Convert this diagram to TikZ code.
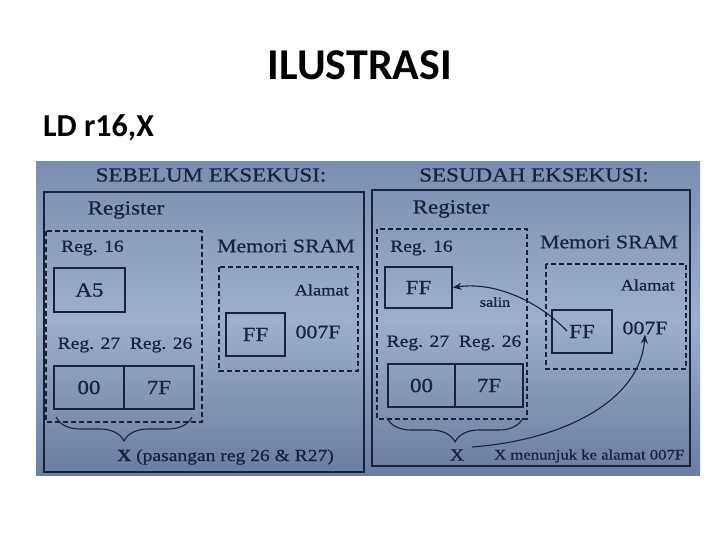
\documentclass[tikz,border=0pt]{standalone}
\usepackage{fontspec}
\setmainfont{Carlito}
\newfontfamily\pf{Liberation Serif}[FakeStretch=1.15,FakeBold=0.6]
\usetikzlibrary{decorations.pathreplacing,arrows.meta}
\definecolor{ink}{HTML}{18223C}
\definecolor{phtop}{HTML}{7A8EB2}
\definecolor{phmid}{HTML}{9DAFCD}
\definecolor{phbot}{HTML}{6A7DA2}
\newcommand{\myfs}[1]{\fontsize{#1}{#1}\selectfont}
\tikzset{
  lbl/.style={font={\pf\myfs{#1}}, text=ink, inner sep=0pt},
  cell/.style={draw=ink, line width=1.2pt, inner sep=0pt, font={\pf\myfs{20}}, text=ink},
  dbox/.style={draw=ink, line width=1.2pt, dash pattern=on 5pt off 3pt},
  panel/.style={draw=ink, line width=1.4pt},
  bracestyle/.style={draw=ink, line width=1.1pt, decorate, decoration={brace, mirror, amplitude=24pt}},
  conn/.style={draw=ink, line width=1.1pt, -{Stealth[length=9pt,width=7pt]}}
}
\begin{document}
\begin{tikzpicture}[x=1pt,y=-1pt]
\useasboundingbox (0,0) rectangle (720,540);
\fill[white] (0,0) rectangle (720,540);
% slide texts
\node[font={\bfseries\myfs{44}}, text=black, inner sep=0pt] (title) at (360,65) {ILUSTRASI};
\node[font={\bfseries\myfs{32}}, text=black, inner sep=0pt, anchor=base west] (instr) at (43,137) {LD r16,X};
% photo background
\shade[top color=phtop, bottom color=phbot, middle color=phmid] (36,162) rectangle (700,475);
% panels
\draw[panel] (44,192) rectangle (364,472);
\draw[panel] (372,190) rectangle (690,466);
% ---------- left: before ----------
\node[lbl=20] (hL) at (211,175) {SEBELUM EKSEKUSI:};
\node[lbl=20] (regL) at (126,210) {Register};
\draw[dbox] (46,231) rectangle (202,422);
\node[lbl=17, anchor=west] (r16L) at (61,248) {Reg. 16};
\node[cell, minimum width=71pt, minimum height=44pt] (a5) at (89.5,290) {A5};
\node[lbl=17] (r2726L) at (125,345) {Reg. 27\ \ Reg. 26};
\node[cell, minimum width=70pt, minimum height=43pt] (c00L) at (89,387.5) {00};
\node[cell, minimum width=70pt, minimum height=43pt] (c7FL) at (159,387.5) {7F};
\node[lbl=19] (memL) at (286,246) {Memori SRAM};
\draw[dbox] (219,267) rectangle (358,371);
\node[lbl=16, anchor=east] (alL) at (349,290) {Alamat};
\node[cell, minimum width=59pt, minimum height=43pt] (ffL) at (255.5,334.5) {FF};
\node[lbl=19] (adL) at (318,332) {007F};
\coordinate (bLa) at (56,417);
\coordinate (bLb) at (192,417);
\draw[bracestyle] (bLa) -- (bLb);
\node[lbl=17, anchor=west] (xL) at (117,457) {\textbf{X} (pasangan reg 26 \& R27)};
% ---------- right: after ----------
\node[lbl=20] (hR) at (534,175) {SESUDAH EKSEKUSI:};
\node[lbl=20] (regR) at (451,209) {Register};
\draw[dbox] (377,229) rectangle (527,419);
\node[lbl=17, anchor=west] (r16R) at (390,248) {Reg. 16};
\node[cell, minimum width=67pt, minimum height=41pt] (ffR16) at (418.5,287.5) {FF};
\node[lbl=17] (r2726R) at (454,343) {Reg. 27\ \ Reg. 26};
\node[cell, minimum width=67pt, minimum height=43pt] (c00R) at (421.5,385.5) {00};
\node[cell, minimum width=68pt, minimum height=43pt] (c7FR) at (489,385.5) {7F};
\node[lbl=19] (memR) at (609,242) {Memori SRAM};
\draw[dbox] (546,264) rectangle (686,369);
\node[lbl=16, anchor=east] (alR) at (675,285) {Alamat};
\node[cell, minimum width=60pt, minimum height=43pt] (ffR) at (582,331.5) {FF};
\node[lbl=19] (adR) at (645,328) {007F};
\node[lbl=14] (salin) at (495,302) {salin};
\coordinate (bRa) at (387,418);
\coordinate (bRb) at (523,418);
\draw[bracestyle] (bRa) -- (bRb);
\node[lbl=17] (xR) at (457,455) {X};
\node[lbl=14.5, anchor=west] (xnote) at (494,456) {X menunjuk ke alamat 007F};
% connectors
\coordinate (salinStart) at (567,331);
\draw[conn] (salinStart) .. controls (535,298) and (492,282) .. (ffR16.east);
\coordinate (xStart) at (472,447);
\draw[conn] (xStart) .. controls (565,440) and (640,400) .. (adR.south);
\end{tikzpicture}
\end{document}
